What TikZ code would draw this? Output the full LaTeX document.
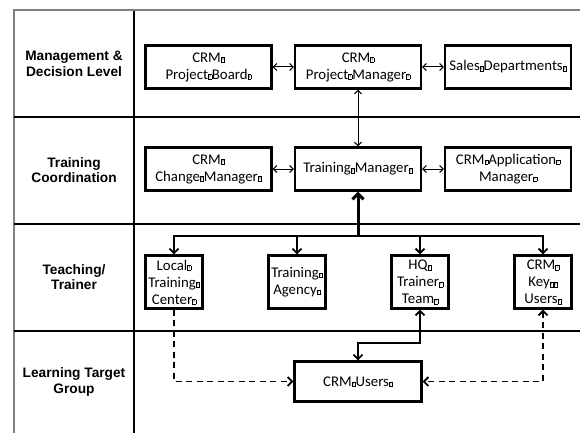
\documentclass[tikz,border=0pt]{standalone}
\usepackage{fontspec}
\setmainfont{Carlito}
\newfontfamily\levelfont{Liberation Sans}
\usetikzlibrary{arrows.meta,positioning,calc}
% glyph box as printed in the picture
\newcommand{\q}{\raisebox{0.1ex}{\fboxsep=0.5pt\fboxrule=0.4pt\fbox{\fontsize{4.5}{5}\selectfont ?}}}

\tikzset{
  unit/.style={draw, rectangle, line width=2.4pt, align=center, inner sep=1pt,
    font=\fontsize{14.8}{17}\selectfont},
  bigunit/.style={unit, minimum width=126pt, minimum height=43pt},
  smallunit/.style={unit, minimum width=57pt, minimum height=53pt},
  level/.style={align=center, font=\levelfont\bfseries\fontsize{13.7}{15.5}\selectfont},
  rowline/.style={line width=1.8pt},
  tip/.style={Straight Barb[length=3.5pt,width=7pt]},
  link/.style={line width=1pt, {Straight Barb[length=3.5pt,width=7pt]}-{Straight Barb[length=3.5pt,width=7pt]}},
  feed/.style={line width=1.8pt, -{Straight Barb[length=4.5pt,width=9pt]}},
  mainfeed/.style={line width=3pt, -{Straight Barb[length=5.5pt,width=11pt]}},
  dashlink/.style={line width=1.8pt, dash pattern=on 6pt off 4.5pt, -{Straight Barb[length=4.5pt,width=9pt]}},
}

\begin{document}
\begin{tikzpicture}[x=1pt, y=-1pt]
    \useasboundingbox (0,0) rectangle (580,433);
    % table frame
    \draw[gray, line width=2pt] (14,433) -- (14,10) -- (580,10);
    \draw[rowline] (134,11) -- (134,433);
    \foreach \yy in {117,224,331}
      \draw[rowline] (14,\yy) -- (580,\yy);
    % level labels
    \node[level] (lvmgmt) at (74,64) {Management \&\\Decision Level};
    \node[level] (lvcoord) at (74,170) {Training\\Coordination};
    \node[level] (lvteach) at (74,277) {Teaching/\\Trainer};
    \node[level] (lvlearn) at (74,382) {Learning Target\\Group};
    % units
    \node[bigunit] (board) at (208.5,67) {CRM\q\\Project\q{}Board\q};
    \node[bigunit] (pm) at (358,67) {CRM\q\\Project\q{}Manager\q};
    \node[bigunit] (sales) at (508,67) {Sales\q{}Departments\q};
    \node[bigunit] (change) at (208.5,169) {CRM\q\\Change\q{}Manager\q};
    \node[bigunit] (tm) at (358,169) {Training\q{}Manager\q};
    \node[bigunit] (app) at (508,169) {CRM\q{}Application\q\\Manager\q};
    \node[smallunit] (ltc) at (174,282) {Local\q\\Training\q\\Center\q};
    \node[smallunit] (agency) at (297,282) {Training\q\\Agency\q};
    \node[smallunit] (hq) at (420,282) {HQ\q\\Trainer\q\\Team\q};
    \node[smallunit] (keyusers) at (543,282) {CRM\q\\Key\q\q\\Users\q};
    \node[unit, minimum width=127pt, minimum height=40pt] (users) at (358,381.5) {CRM\q{}Users\q};
    % connectors
    \draw[link] (board) -- (pm);
    \draw[link] (pm) -- (sales);
    \draw[link] (pm) -- (tm);
    \draw[link] (change) -- (tm);
    \draw[link] (tm) -- (app);
    \coordinate (bus) at (358,236);
    \draw[feed] (bus) -| (ltc.north);
    \draw[feed] (bus) -| (agency.north);
    \draw[feed] (bus) -| (hq.north);
    \draw[feed] (bus) -| (keyusers.north);
    \draw[mainfeed] (bus) -- (tm.south);
    \coordinate (hqturn) at (358,343);
    \draw[feed, {Straight Barb[length=4.5pt,width=9pt]}-{Straight Barb[length=4.5pt,width=9pt]}] (hq.south) |- (hqturn) -- (users.north);
    \draw[dashlink] (ltc.south) |- (users.west);
    \draw[dashlink, {Straight Barb[length=4.5pt,width=9pt]}-{Straight Barb[length=4.5pt,width=9pt]}] (keyusers.south) |- (users.east);
\end{tikzpicture}
\end{document}
